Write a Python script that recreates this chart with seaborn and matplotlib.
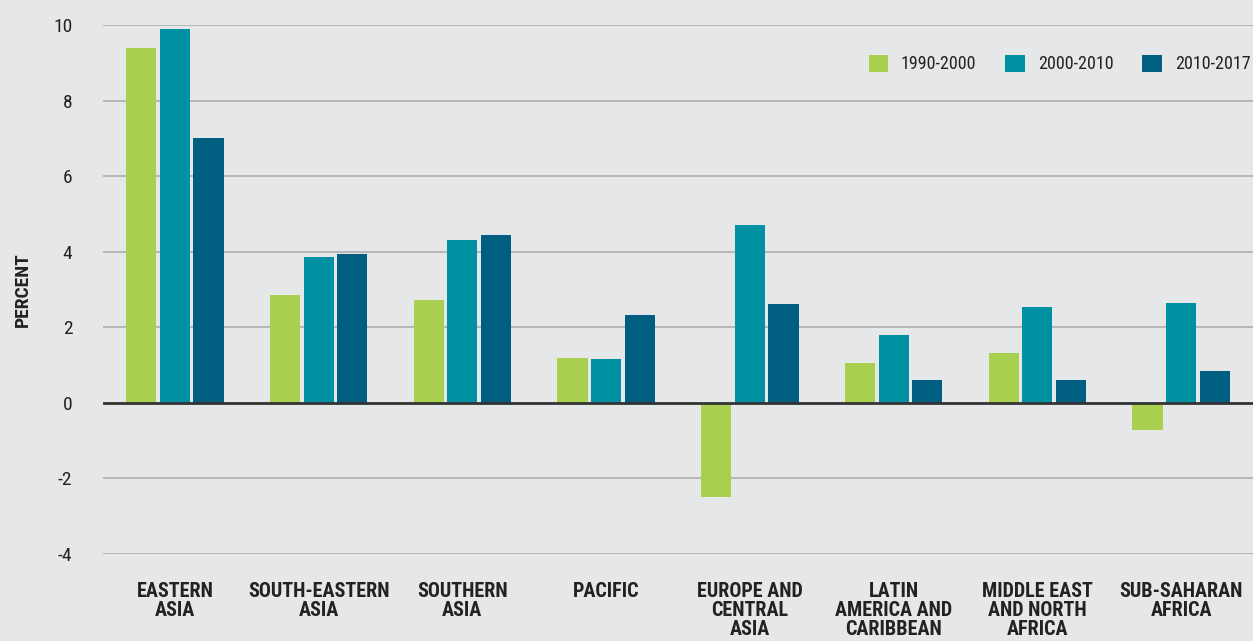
import matplotlib
matplotlib.use("Agg")
import matplotlib.pyplot as plt
import seaborn as sns
import pandas as pd

regions = ["EASTERN\nASIA", "SOUTH-EASTERN\nASIA", "SOUTHERN\nASIA", "PACIFIC",
           "EUROPE AND\nCENTRAL\nASIA", "LATIN\nAMERICA AND\nCARIBBEAN",
           "MIDDLE EAST\nAND NORTH\nAFRICA", "SUB-SAHARAN\nAFRICA"]
periods = ["1990-2000", "2000-2010", "2010-2017"]
v_1990 = [9.39, 2.86, 2.72, 1.19, -2.49, 1.06, 1.32, -0.71]
v_2000 = [9.89, 3.86, 4.31, 1.16, 4.71, 1.80, 2.54, 2.65]
v_2010 = [7.01, 3.94, 4.44, 2.33, 2.62, 0.61, 0.61, 0.85]
colors = ["#A8CF4E", "#0090A3", "#005F80"]

sns.set_style("white")
plt.rcParams["font.family"] = ["Roboto Condensed", "Liberation Sans", "DejaVu Sans"]
plt.rcParams["axes.unicode_minus"] = False

df = pd.DataFrame({
    "region": regions * 3,
    "period": [p for p in periods for _ in regions],
    "value": v_1990 + v_2000 + v_2010,
})

bg = "#E6E7E9"
fig = plt.figure(figsize=(12.53, 6.41), dpi=100, facecolor=bg)
ax = fig.add_axes([0.0822, 0.1357, 0.9178, 0.825], facecolor=bg)

ax.set_ylim(-4, 10)
ax.set_yticks(range(-4, 11, 2))
for y in range(-4, 11, 2):
    if y != 0:
        ax.axhline(y, color="#AEAEAE", lw=1.2, zorder=0)

sns.barplot(data=df, x="region", y="value", hue="period", palette=colors,
            width=0.7, gap=0.1, saturation=1, linewidth=0, ax=ax, zorder=2)
ax.axhline(0, color="#333333", lw=2, zorder=3)
ax.set_xlim(-0.5, 7.5)

for s in ax.spines.values():
    s.set_visible(False)
ax.tick_params(length=0)
ax.tick_params(axis="x", pad=20)
ax.tick_params(axis="y", pad=22)
for lab in ax.get_xticklabels():
    lab.set_fontsize(14.5)
    lab.set_fontweight("bold")
    lab.set_color("#222222")
    lab.set_linespacing(1.0)
for lab in ax.get_yticklabels():
    lab.set_fontsize(14)
    lab.set_color("#222222")

ax.set_xlabel("")
ax.set_ylabel("PERCENT", fontsize=14, fontweight="bold", color="#222222")
ax.yaxis.set_label_coords(-0.062, 0.5)

leg = ax.legend(loc="upper right", bbox_to_anchor=(1.012, 0.975), ncol=3, frameon=False,
                handlelength=1.1, handleheight=1.1, handletextpad=0.7,
                columnspacing=1.6, fontsize=13)
for t in leg.get_texts():
    t.set_color("#222222")

fig.savefig("out.png", dpi=100, facecolor=bg)
